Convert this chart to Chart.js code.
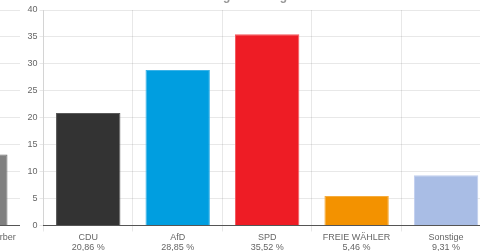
<!DOCTYPE html>
<html>
<head>
<meta charset="utf-8">
<script src="https://cdn.jsdelivr.net/npm/chart.js@4"></script>
<style>
  html, body { margin:0; padding:0; background:#fff; overflow:hidden; width:480px; height:251px; }
  #wrap { position:relative; width:480px; height:251px; overflow:hidden; }
  #title { position:absolute; left:157px; width:200px; top:-11px; text-align:center;
           font: bold 12px "Liberation Sans", Arial, sans-serif; color:#999; white-space:nowrap; }
  #cLeft { position:absolute; left:-180px; top:0; }
  #cMain { position:absolute; left:0; top:0; }
</style>
</head>
<body>
<div id="wrap">
  <canvas id="cLeft" width="200" height="251"></canvas>
  <canvas id="cMain" width="500" height="251"></canvas>
  <div id="title">Kreistagswahl Ergebnisse</div>
</div>
<script>
const categories = ["CDU", "AfD", "SPD", "FREIE WÄHLER", "Sonstige"];
const percentLabels = ["20,86 %", "28,85 %", "35,52 %", "5,46 %", "9,31 %"];
const values = [20.86, 28.85, 35.52, 5.46, 9.31];
const barColors = ["#333333", "#009ee0", "#ee1c25", "#f39200", "#a9bde5"];
const borderColors = ["#5a5a5a", "#3bb3e8", "#f2555b", "#f6ac3c", "#bfcdee"];

const leftCategories = ["Parteilose Bewerber"];
const leftPercentLabels = ["13,20 %"];
const leftValues = [13.2];

const yTicks = { min: 0, max: 40, step: 5 };

const FONT = { family: '"Liberation Sans", Arial, sans-serif', size: 9, lineHeight: 1.1 };
const TICK_COLOR = '#666';
const GRID_COLOR = 'rgba(0,0,0,0.09)';

const fitX = (s) => { s.height = 25.5; s.paddingLeft = 0; s.paddingRight = 0; };

new Chart(document.getElementById('cMain'), {
  type: 'bar',
  data: {
    labels: categories.map((c, i) => [c, percentLabels[i]]),
    datasets: [{
      data: values,
      backgroundColor: barColors,
      borderColor: borderColors,
      borderWidth: 1
    }]
  },
  options: {
    responsive: false,
    animation: false,
    layout: { padding: { top: 10, left: 0, right: 9.2, bottom: 0 } },
    plugins: { legend: { display: false }, tooltip: { enabled: false }, title: { display: false } },
    scales: {
      x: {
        ticks: { font: FONT, color: TICK_COLOR, padding: 1, maxRotation: 0, autoSkip: false },
        grid: { color: GRID_COLOR, tickLength: 6 },
        border: { color: '#555', width: 1 },
        afterFit: fitX
      },
      y: {
        min: yTicks.min, max: yTicks.max,
        ticks: { stepSize: yTicks.step, font: FONT, color: TICK_COLOR, padding: 2 },
        grid: { color: GRID_COLOR, tickLength: 4 },
        border: { color: GRID_COLOR },
        afterFit: (s) => { s.width = 43.5; }
      }
    }
  }
});

new Chart(document.getElementById('cLeft'), {
  type: 'bar',
  data: {
    labels: leftCategories.map((c, i) => [c, leftPercentLabels[i]]),
    datasets: [{
      data: leftValues,
      backgroundColor: '#808080',
      borderColor: '#6a6a6a',
      borderWidth: 1
    }]
  },
  options: {
    responsive: false,
    animation: false,
    layout: { padding: { top: 10, left: 110.6, right: 0, bottom: 0 } },
    plugins: { legend: { display: false }, tooltip: { enabled: false } },
    scales: {
      x: {
        ticks: { font: FONT, color: TICK_COLOR, padding: 1, maxRotation: 0, autoSkip: false },
        grid: { display: false, tickLength: 6 },
        border: { color: '#555', width: 1 },
        afterFit: fitX
      },
      y: {
        min: yTicks.min, max: yTicks.max,
        ticks: { stepSize: yTicks.step, display: false },
        grid: { color: GRID_COLOR, drawTicks: false },
        border: { display: false },
        afterFit: (s) => { s.width = 0; }
      }
    }
  }
});
</script>
</body>
</html>
